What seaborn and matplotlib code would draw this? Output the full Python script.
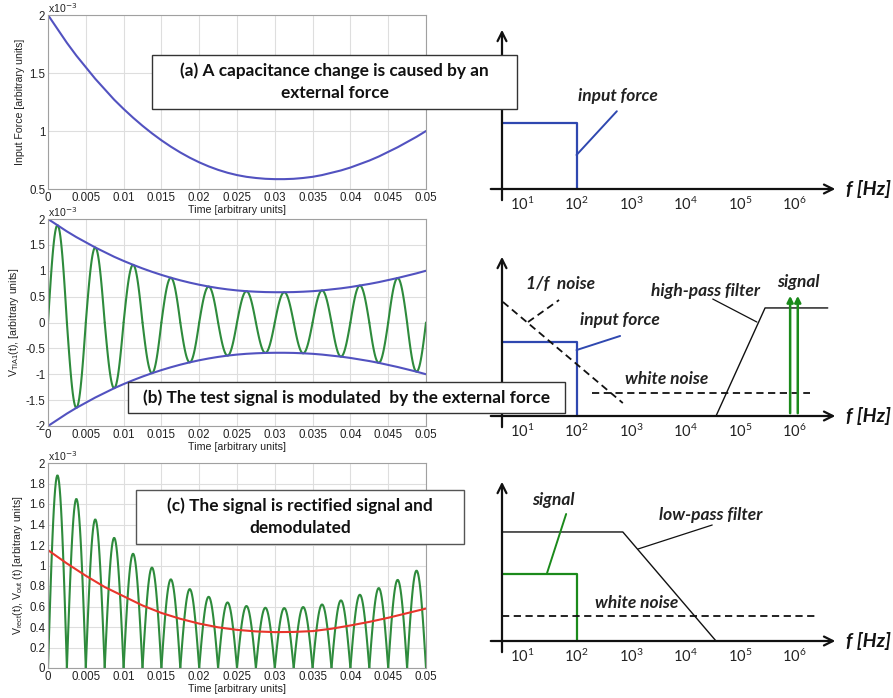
import numpy as np
import pandas as pd
import matplotlib
matplotlib.use("Agg")
import matplotlib.pyplot as plt
import matplotlib.patches as mpatches
import seaborn as sns

# ---- values (amplitudes in units of 1e-3) ----
time_ticks = [0, 0.005, 0.01, 0.015, 0.02, 0.025, 0.03, 0.035, 0.04, 0.045, 0.05]
time_labels = ["0", "0.005", "0.01", "0.015", "0.02", "0.025", "0.03", "0.035", "0.04", "0.045", "0.05"]

# input force envelope, sampled every 0.00125 (odd entries = carrier peaks)
env_t = np.linspace(0, 0.05, 41)
env_vals = [2.00, 1.88, 1.76, 1.65, 1.55, 1.45, 1.36, 1.27, 1.19, 1.115,
            1.045, 0.98, 0.92, 0.865, 0.815, 0.77, 0.73, 0.695, 0.665, 0.64,
            0.62, 0.605, 0.595, 0.588, 0.585, 0.585, 0.588, 0.595, 0.605, 0.62,
            0.64, 0.66, 0.685, 0.715, 0.745, 0.78, 0.82, 0.86, 0.905, 0.95, 1.00]
half_period = 0.0025

# demodulated output (red), sampled every 0.0025
out_t = np.linspace(0, 0.05, 21)
out_vals = [1.15, 1.02, 0.90, 0.79, 0.70, 0.61, 0.537, 0.48, 0.433, 0.397,
            0.372, 0.357, 0.35, 0.352, 0.36, 0.383, 0.415, 0.45, 0.49, 0.535, 0.58]

# spectrum sketches: x in decades (log10 f), y in relative level
decades = [1, 2, 3, 4, 5, 6]
yaxis_d = 0.633
force_band = [yaxis_d, 2.0]
force_level_a = 0.407
force_level_b = 0.457
one_over_f = ([0.65, 2.85], [0.704, 0.08])
white_b = ([2.28, 6.28], 0.142)
highpass = ([4.56, 5.46, 6.61], [0.0, 0.667, 0.667])
signal_lines = [5.92, 6.06]
signal_top = 0.759
lowpass = ([yaxis_d, 2.85, 4.56], [0.673, 0.673, 0.0])
signal_band_c = [yaxis_d, 2.01]
signal_level_c = 0.414
white_c = ([yaxis_d, 6.41], 0.154)

sns.set_theme(style="whitegrid")
plt.rcParams["font.family"] = ["Liberation Sans", "DejaVu Sans"]

W, H = 893, 698
fig = plt.figure(figsize=(W / 100, H / 100), dpi=100)
fig.patch.set_facecolor("white")


def px_rect(x0, y0, x1, y1):
    return [x0 / W, 1 - y1 / H, (x1 - x0) / W, (y1 - y0) / H]


BLUE_L = "#5252c0"
GREEN_L = "#2e8b3c"
RED_L = "#e8352b"


def matlab_axes(ax, ylim, yticks, ylabels, ylabel):
    ax.set_facecolor("white")
    ax.set_xlim(0, 0.05)
    ax.set_ylim(*ylim)
    ax.set_xticks(time_ticks)
    ax.set_xticklabels(time_labels)
    ax.set_yticks(yticks)
    ax.set_yticklabels(ylabels)
    ax.grid(True, color="#dedede", lw=0.8)
    for s in ax.spines.values():
        s.set_color("#a0a0a0")
        s.set_linewidth(0.8)
    ax.tick_params(length=0, labelsize=8.3, pad=2, colors="#222222")
    ax.set_xlabel("Time [arbitrary units]", fontsize=7.7, labelpad=1, color="#222222")
    ax.set_ylabel(ylabel, fontsize=7.6, labelpad=3, color="#222222")
    ax.text(0, 1.0, r"x10$^{-3}$", transform=ax.transAxes, fontsize=7.6,
            va="bottom", ha="left", color="#222222")


def humps(signed):
    rows = []
    for k in range(20):
        u = np.linspace(0, 1, 30)
        amp = env_vals[2 * k + 1]
        sgn = (-1) ** k if signed else 1
        for uu in u:
            rows.append((k * half_period + uu * half_period, sgn * amp * np.sin(np.pi * uu), k))
    return pd.DataFrame(rows, columns=["t", "v", "k"])


env_df = pd.DataFrame({"t": env_t, "v": env_vals})

# (a) input force
ax1 = fig.add_axes(px_rect(48, 15, 426, 189))
sns.lineplot(data=env_df, x="t", y="v", ax=ax1, color=BLUE_L, lw=1.5, estimator=None)
matlab_axes(ax1, (0.5, 2), [0.5, 1, 1.5, 2], ["0.5", "1", "1.5", "2"],
            "Input Force [arbitrary units]")

# (b) modulated signal
ax2 = fig.add_axes(px_rect(48, 219, 426, 426))
hb = humps(True)
sns.lineplot(data=hb, x="t", y="v", units="k", ax=ax2, color=GREEN_L, lw=1.5, estimator=None)
sns.lineplot(data=env_df, x="t", y="v", ax=ax2, color=BLUE_L, lw=1.5, estimator=None)
neg_df = pd.DataFrame({"t": env_t, "v": [-v for v in env_vals]})
sns.lineplot(data=neg_df, x="t", y="v", ax=ax2, color=BLUE_L, lw=1.5, estimator=None)
yb = [-2, -1.5, -1, -0.5, 0, 0.5, 1, 1.5, 2]
matlab_axes(ax2, (-2, 2), yb, ["-2", "-1.5", "-1", "-0.5", "0", "0.5", "1", "1.5", "2"],
            r"V$_{\mathregular{TIA1}}$(t), [arbitrary units]")

# (c) rectified + demodulated
ax3 = fig.add_axes(px_rect(48, 463, 426, 668))
hc = humps(False)
sns.lineplot(data=hc, x="t", y="v", units="k", ax=ax3, color=GREEN_L, lw=1.5, estimator=None)
out_df = pd.DataFrame({"t": out_t, "v": out_vals})
sns.lineplot(data=out_df, x="t", y="v", ax=ax3, color=RED_L, lw=1.5, estimator=None)
yc = [0, 0.2, 0.4, 0.6, 0.8, 1, 1.2, 1.4, 1.6, 1.8, 2]
matlab_axes(ax3, (0, 2), yc, ["0", "0.2", "0.4", "0.6", "0.8", "1", "1.2", "1.4", "1.6", "1.8", "2"],
            r"V$_{\mathregular{rect}}$(t), V$_{\mathregular{out}}$ (t) [arbitrary units]")

# ---- spectrum sketches ----
TXT = ["Lato", "Open Sans", "DejaVu Sans"]
BLUE_R = "#2f48b0"
GREEN_R = "#1b8a1b"
K = "#111111"
UNIT = 162.0


def sketch_axes(axis_px):
    ax = fig.add_axes(px_rect(480, axis_px - 185, 893, axis_px + 30))
    ax.set_xlim(1 + (480 - 522) / 54.5, 1 + (893 - 522) / 54.5)
    ax.set_ylim(-30 / UNIT, 185 / UNIT)
    ax.axis("off")
    ax.annotate("", xy=(6.80, 0), xytext=(0.376, 0),
                arrowprops=dict(arrowstyle="->", lw=1.6, color=K, mutation_scale=16))
    ax.annotate("", xy=(yaxis_d, 1.0), xytext=(yaxis_d, -0.086),
                arrowprops=dict(arrowstyle="->", lw=1.6, color=K, mutation_scale=16))
    for d in decades:
        ax.text(d, -0.095, r"$\mathregular{10^{%d}}$" % d, ha="center", va="center",
                fontsize=10.5, color="#222222", family=TXT)
    ax.text(6.94, 0.0, "f [Hz]", ha="left", va="center", fontsize=14,
            fontweight="bold", fontstyle="italic", color=K, family=TXT)
    return ax


def label(ax, x, y, s):
    ax.text(x, y, s, ha="center", va="center", fontsize=12.5, fontweight="bold",
            fontstyle="italic", color="#222222", family=TXT)


# (a)
sa = sketch_axes(189)
sa.plot([force_band[0], force_band[1], force_band[1]], [force_level_a, force_level_a, 0],
        color=BLUE_R, lw=1.6)
sa.plot([2.0, 2.74], [0.21, 0.48], color=BLUE_R, lw=1.4)
label(sa, 2.76, 0.574, "input force")

# (b)
sb = sketch_axes(416)
sb.plot([force_band[0], force_band[1], force_band[1]], [force_level_b, force_level_b, 0],
        color=BLUE_R, lw=1.6)
sb.plot([2.0, 2.80], [0.407, 0.494], color=BLUE_R, lw=1.4)
label(sb, 2.80, 0.593, "input force")
sb.plot(one_over_f[0], one_over_f[1], color=K, lw=1.3, ls=(0, (4, 2.5)))
sb.plot([1.11, 1.68], [0.58, 0.716], color=K, lw=1.3, ls=(0, (4, 2.5)))
label(sb, 1.70, 0.815, "1/f  noise")
sb.plot(white_b[0], [white_b[1]] * 2, color=K, lw=1.3, ls=(0, (4, 2.5)))
label(sb, 3.66, 0.228, "white noise")
sb.plot(highpass[0], highpass[1], color=K, lw=1.0)
sb.plot([5.31, 4.50], [0.58, 0.722], color=K, lw=0.9)
label(sb, 4.36, 0.772, "high-pass filter")
for d in signal_lines:
    sb.annotate("", xy=(d, signal_top), xytext=(d, 0),
                arrowprops=dict(arrowstyle="-|>", lw=1.8, color=GREEN_R, mutation_scale=9))
label(sb, 6.08, 0.827, "signal")

# (c)
sc = sketch_axes(641)
sc.plot(lowpass[0], lowpass[1], color=K, lw=1.0)
sc.plot([3.13, 4.49], [0.568, 0.716], color=K, lw=0.9)
label(sc, 4.47, 0.778, "low-pass filter")
sc.plot([signal_band_c[0], signal_band_c[1], signal_band_c[1]],
        [signal_level_c, signal_level_c, 0], color=GREEN_R, lw=1.6)
sc.plot([1.46, 1.81], [0.42, 0.784], color=GREEN_R, lw=1.4)
label(sc, 1.57, 0.87, "signal")
sc.plot(white_c[0], [white_c[1]] * 2, color=K, lw=1.3, ls=(0, (4, 2.5)))
label(sc, 3.11, 0.235, "white noise")

# ---- caption boxes ----
def caption(x0, y0, x1, y1, lines, ec="#333333"):
    fig.patches.append(mpatches.Rectangle((x0 / W, 1 - y1 / H), (x1 - x0) / W, (y1 - y0) / H,
                                          transform=fig.transFigure, facecolor="white",
                                          edgecolor=ec, lw=1.0, zorder=5))
    n = len(lines)
    cy = (y0 + y1) / 2
    for i, s in enumerate(lines):
        y = cy + (i - (n - 1) / 2) * 22
        fig.text((x0 + x1) / 2 / W, 1 - y / H, s, ha="center", va="center",
                 fontsize=12.4, fontweight="bold", color="#111111", family=TXT, zorder=6)


caption(152, 55, 517, 109, ["(a) A capacitance change is caused by an", "external force"])
caption(128, 382, 565, 413, ["(b) The test signal is modulated  by the external force"])
caption(136, 490, 464, 544, ["(c) The signal is rectified signal and", "demodulated"], ec="#555555")

fig.savefig("out.png", dpi=100, facecolor="white")
